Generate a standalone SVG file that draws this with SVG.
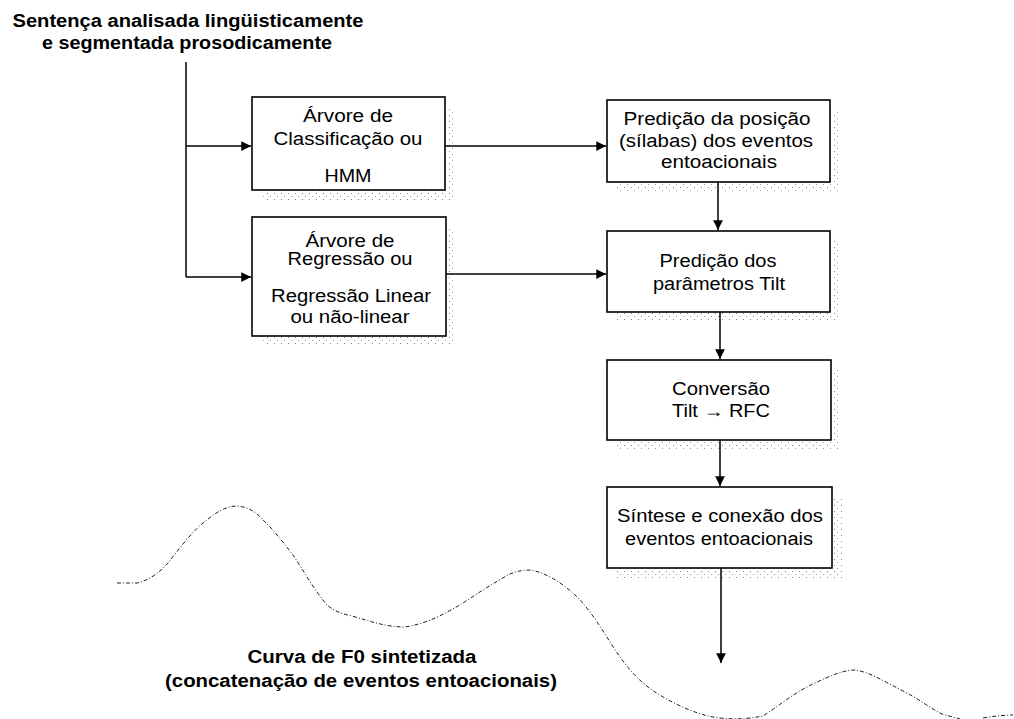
<svg xmlns="http://www.w3.org/2000/svg" width="1014" height="719" viewBox="0 0 1014 719">
  <style>
    .box { fill: #ffffff; stroke: #000000; stroke-width: 1.6; }
    .shadow { fill: url(#speckle); stroke: none; }
    .lbl { font-family: "Liberation Sans", Arial, sans-serif; font-size: 18px; fill: #000000; text-anchor: middle; }
    .ttl { font-family: "Liberation Sans", Arial, sans-serif; font-size: 18px; font-weight: bold; fill: #000000; text-anchor: middle; }
    .wire { fill: none; stroke: #000000; stroke-width: 1.5; }
    .curve { fill: none; stroke: #222222; stroke-width: 1; stroke-dasharray: 4 2 1 2; }
  </style>
  <defs>
    <marker id="arrow" viewBox="0 0 10 10" refX="10" refY="5" markerWidth="6.5" markerHeight="6.5" markerUnits="strokeWidth" orient="auto">
      <path d="M0,0 L10,5 L0,10 Z" fill="#000000"/>
    </marker>
    <!-- sparse grey dots used for the drop shadows -->
    <pattern id="speckle" width="7" height="6" patternUnits="userSpaceOnUse">
      <rect x="1" y="1" width="1" height="1" fill="#8a8a8a"/>
      <rect x="4" y="4" width="1" height="1" fill="#a0a0a0"/>
    </pattern>
  </defs>

  <rect width="1014" height="719" fill="#ffffff"/>

  <!-- input sentence -->
  <g id="input">
    <text class="ttl" x="188" y="27" textLength="351" lengthAdjust="spacingAndGlyphs">Sentença analisada lingüisticamente</text>
    <text class="ttl" x="187" y="49" textLength="290" lengthAdjust="spacingAndGlyphs">e segmentada prosodicamente</text>
  </g>

  <!-- classification tree / HMM -->
  <g id="classificacao">
    <rect class="shadow" x="262" y="107" width="193" height="93"/>
    <rect class="box" x="252" y="97" width="193" height="93"/>
    <text class="lbl" x="348" y="122" textLength="90" lengthAdjust="spacingAndGlyphs">Árvore de</text>
    <text class="lbl" x="348" y="145" textLength="149" lengthAdjust="spacingAndGlyphs">Classificação ou</text>
    <text class="lbl" x="348" y="182" textLength="47" lengthAdjust="spacingAndGlyphs">HMM</text>
  </g>

  <!-- regression tree / linear regression -->
  <g id="regressao">
    <rect class="shadow" x="262" y="227" width="194" height="119"/>
    <rect class="box" x="252" y="217" width="194" height="119"/>
    <text class="lbl" x="350" y="247" textLength="89" lengthAdjust="spacingAndGlyphs">Árvore de</text>
    <text class="lbl" x="350" y="265" textLength="125" lengthAdjust="spacingAndGlyphs">Regressão ou</text>
    <text class="lbl" x="351" y="302" textLength="160" lengthAdjust="spacingAndGlyphs">Regressão Linear</text>
    <text class="lbl" x="350" y="323" textLength="119" lengthAdjust="spacingAndGlyphs">ou não-linear</text>
  </g>

  <!-- position prediction -->
  <g id="posicao">
    <rect class="shadow" x="617" y="110" width="223" height="82"/>
    <rect class="box" x="607" y="100" width="223" height="82"/>
    <text class="lbl" x="717" y="125" textLength="187" lengthAdjust="spacingAndGlyphs">Predição da posição</text>
    <text class="lbl" x="716" y="147" textLength="194" lengthAdjust="spacingAndGlyphs">(sílabas) dos eventos</text>
    <text class="lbl" x="719" y="168" textLength="116" lengthAdjust="spacingAndGlyphs">entoacionais</text>
  </g>

  <!-- Tilt parameter prediction -->
  <g id="tilt">
    <rect class="shadow" x="617" y="241" width="223" height="81"/>
    <rect class="box" x="607" y="231" width="223" height="81"/>
    <text class="lbl" x="718" y="267" textLength="117" lengthAdjust="spacingAndGlyphs">Predição dos</text>
    <text class="lbl" x="719" y="290" textLength="132" lengthAdjust="spacingAndGlyphs">parâmetros Tilt</text>
  </g>

  <!-- Tilt to RFC conversion -->
  <g id="conversao">
    <rect class="shadow" x="617" y="370" width="224" height="80"/>
    <rect class="box" x="607" y="360" width="224" height="80"/>
    <text class="lbl" x="721" y="395" textLength="98" lengthAdjust="spacingAndGlyphs">Conversão</text>
    <text class="lbl" x="721" y="417" textLength="98" lengthAdjust="spacingAndGlyphs">Tilt → RFC</text>
  </g>

  <!-- synthesis of intonation events -->
  <g id="sintese">
    <rect class="shadow" x="617" y="497" width="225" height="81"/>
    <rect class="box" x="607" y="487" width="225" height="81"/>
    <text class="lbl" x="720" y="522" textLength="206" lengthAdjust="spacingAndGlyphs">Síntese e conexão dos</text>
    <text class="lbl" x="719" y="545" textLength="188" lengthAdjust="spacingAndGlyphs">eventos entoacionais</text>
  </g>

  <!-- synthesized F0 contour -->
  <g id="curva">
    <path class="curve" d="M117,583 L137,583 C150,580 160,572 168,563 C178,550 195,528 207,520 C215,513 226,506 237,506 C250,507 258,514 263,520 C272,528 283,542 293,555 C302,568 314,590 327,605 C334,611 342,614 352,616 C370,621 385,627 405,627 C430,623 445,613 460,605 C475,595 495,582 510,574 C518,571 523,570 530,570 C545,572 565,584 580,600 C595,616 608,640 620,657 C630,671 640,682 655,692 C675,705 700,716 720,718 C740,720 752,718 763,716 C780,705 795,692 815,683 C830,676 843,670 855,670 C870,672 885,682 907,693 C920,700 930,708 942,714 L960,719 M983,718 C995,716 1005,715 1013,715"/>
    <text class="ttl" x="362" y="663" textLength="229" lengthAdjust="spacingAndGlyphs">Curva de F0 sintetizada</text>
    <text class="ttl" x="361" y="687" textLength="392" lengthAdjust="spacingAndGlyphs">(concatenação de eventos entoacionais)</text>
  </g>

  <!-- connectors -->
  <g id="connectors">
    <path class="wire" d="M186,62 L186,277"/>
    <path class="wire" d="M186,146 L251,146" marker-end="url(#arrow)"/>
    <path class="wire" d="M186,277 L251,277" marker-end="url(#arrow)"/>
    <path class="wire" d="M445,146 L606,146" marker-end="url(#arrow)"/>
    <path class="wire" d="M446,274 L606,274" marker-end="url(#arrow)"/>
    <path class="wire" d="M718,182 L718,230" marker-end="url(#arrow)"/>
    <path class="wire" d="M720,312 L720,359" marker-end="url(#arrow)"/>
    <path class="wire" d="M720,440 L720,486" marker-end="url(#arrow)"/>
    <path class="wire" d="M721,568 L721,663" marker-end="url(#arrow)"/>
  </g>
</svg>
